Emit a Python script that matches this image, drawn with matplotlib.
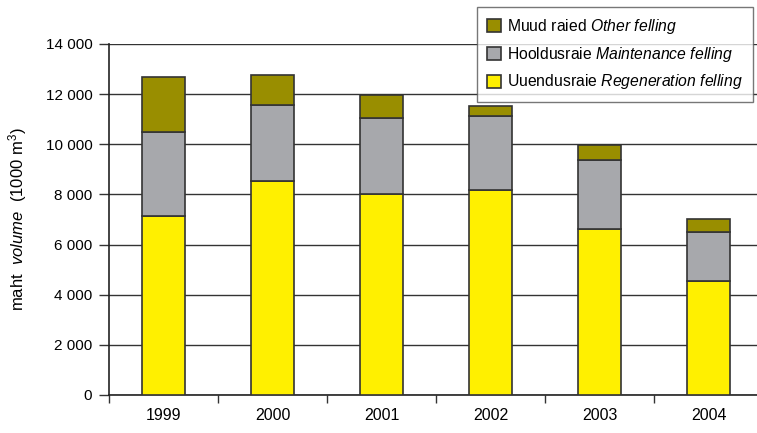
import matplotlib.pyplot as plt
import numpy as np

plt.rcParams['font.family'] = ['Liberation Sans', 'DejaVu Sans']
plt.rcParams['mathtext.fontset'] = 'custom'
plt.rcParams['mathtext.rm'] = 'Liberation Sans'
plt.rcParams['mathtext.it'] = 'Liberation Sans:italic'

# Data (1000 m3)
years = ["1999", "2000", "2001", "2002", "2003", "2004"]
regeneration = [7150, 8530, 8030, 8180, 6610, 4560]
maintenance = [3350, 3050, 3000, 2950, 2780, 1940]
other = [2190, 1170, 940, 400, 570, 520]

labels = [r"Uuendusraie $\it{Regeneration\ felling}$",
          r"Hooldusraie $\it{Maintenance\ felling}$",
          r"Muud raied $\it{Other\ felling}$"]
colors = ["#FFF000", "#A7A8AC", "#998E00"]

fig = plt.figure(figsize=(7.57, 4.33), dpi=100)
ax = fig.add_axes([109 / 757, 38 / 433, 654 / 757, 351 / 433])

x = np.arange(len(years))
w = 0.40
bottom = np.zeros(len(years))
for vals, lab, col in zip([regeneration, maintenance, other], labels, colors):
    ax.bar(x, vals, w, bottom=bottom, color=col, edgecolor="#333333",
           linewidth=1.2, label=lab, zorder=3)
    bottom += np.array(vals)

ax.set_xlim(-0.5, 5.5)
ax.set_ylim(0, 14000)
ax.set_yticks(np.arange(0, 14001, 2000))
ax.set_yticklabels([f"{v:,}".replace(",", " ") for v in range(0, 14001, 2000)], fontsize=11)
ax.yaxis.grid(True, color="#333333", linewidth=1.0, zorder=0)
ax.set_axisbelow(True)

ax.set_xticks(x)
ax.set_xticklabels(years, fontsize=11.5)
ax.set_xticks(np.arange(-0.5, 6, 1), minor=True)
ax.tick_params(axis="x", which="major", length=0, pad=9)
ax.tick_params(axis="x", which="minor", length=6, width=1, color="#333333")
ax.tick_params(axis="y", length=7, width=1, color="#333333", pad=5)

for s in ["top", "right"]:
    ax.spines[s].set_visible(False)
for s in ["left", "bottom"]:
    ax.spines[s].set_color("#222222")
    ax.spines[s].set_linewidth(1.2)

ax.set_ylabel(r"maht  $\it{volume}$  (1000 m$^3$)", fontsize=12, labelpad=12)

h, l = ax.get_legend_handles_labels()
leg = fig.legend(h[::-1], l[::-1], loc="upper left",
                 bbox_to_anchor=(477 / 757, 1 - 7 / 433), borderaxespad=0,
                 fontsize=11.3, frameon=True, fancybox=False, edgecolor="#555555",
                 handlelength=0.9, handleheight=0.9, handletextpad=0.35,
                 labelspacing=0.55, borderpad=0.65)
leg.get_frame().set_linewidth(1.0)

fig.savefig("out.png", dpi=100)
